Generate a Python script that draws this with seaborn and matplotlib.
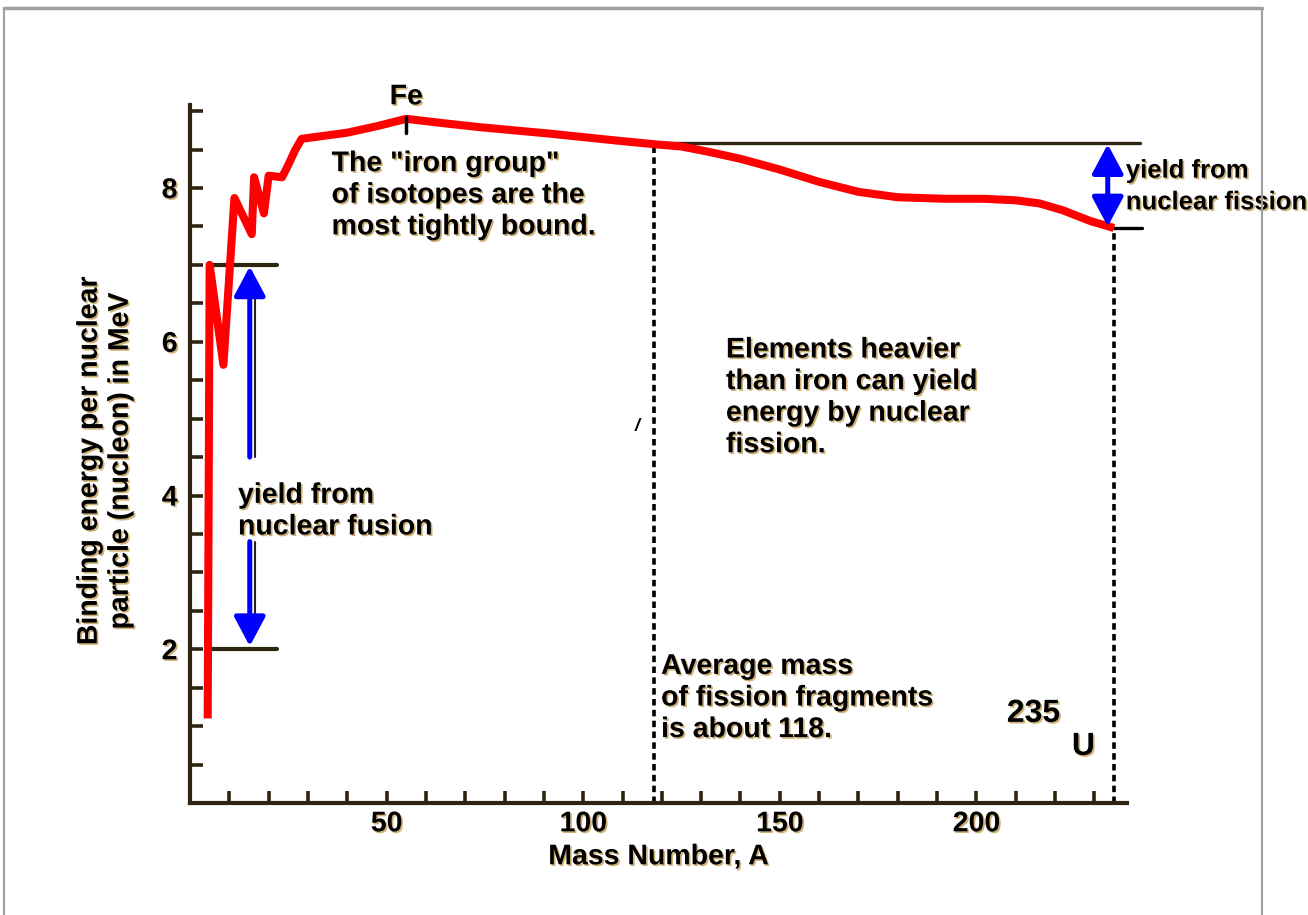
import matplotlib
matplotlib.use("Agg")
import matplotlib.pyplot as plt
import matplotlib.patheffects as pe
from matplotlib.lines import Line2D
import seaborn as sns
import pandas as pd

# DADOS
mass_number = [4.5, 5.0, 8.5, 11.3, 15.7, 16.3, 18.8, 20.0, 23.4, 25.0, 26.7, 28.4,
               40, 48, 55, 65, 74, 91, 108, 118, 125, 132, 140, 150, 160, 170, 180,
               192, 202, 210, 216, 222, 229, 235]
binding_energy = [1.1, 7.0, 5.7, 7.87, 7.4, 8.14, 7.67, 8.16, 8.14, 8.3, 8.49, 8.64,
                  8.72, 8.81, 8.9, 8.84, 8.79, 8.71, 8.62, 8.57, 8.54, 8.47, 8.38, 8.24, 8.08, 7.95, 7.88,
                  7.86, 7.86, 7.84, 7.8, 7.71, 7.57, 7.48]

fusion_levels = [7.0, 2.0]
fission_levels = [8.58, 7.48]
fission_fragment_mass = 118
uranium_mass = 235
iron_mass = 55

x_major = [50, 100, 150, 200]
y_major = [2, 4, 6, 8]

escuro = "#2e2410"
sombra = [pe.withSimplePatchShadow(offset=(1.2, -1.2), shadow_rgbFace="#c9a866", alpha=0.9)]

sns.set_theme(style="white")
plt.rcParams["font.family"] = ["Liberation Sans", "DejaVu Sans"]
plt.rcParams["font.weight"] = "bold"
plt.rcParams["axes.labelweight"] = "bold"

fig = plt.figure(figsize=(13.08, 9.15), dpi=100)
ax = fig.add_axes([190 / 1308, 1 - 803 / 915, (1127 - 190) / 1308, (803 - 105) / 915])

df = pd.DataFrame({"A": mass_number, "E": binding_energy})
sns.lineplot(data=df, x="A", y="E", color="#ff0000", linewidth=5.8, sort=False, ax=ax,
             solid_joinstyle="round", solid_capstyle="butt", zorder=3)

ax.set_xlim(0, 238.3)
ax.set_ylim(0, 9.08)

# linhas de fusao
for nivel in fusion_levels:
    ax.plot([5, 22], [nivel, nivel], color=escuro, lw=3, zorder=2)

# linhas de fissao
ax.plot([115, 241.5], [fission_levels[0]] * 2, color=escuro, lw=2.4, clip_on=False, zorder=2)
ax.plot([235, 242], [fission_levels[1]] * 2, color="black", lw=2.4, clip_on=False, zorder=2)

# linhas tracejadas verticais
ax.plot([fission_fragment_mass] * 2, [0, 8.55], color="black", lw=2.6, ls=(0, (1.8, 1.2)), zorder=2)
ax.plot([uranium_mass] * 2, [0, 7.45], color="black", lw=2.6, ls=(0, (1.8, 1.2)), zorder=2)

# setas azuis
seta = dict(arrowstyle="-|>,head_length=0.6,head_width=0.32", color="blue", lw=3.6,
            mutation_scale=30, shrinkA=0, shrinkB=0)
ax.plot([16.6, 16.6], [4.5, 6.8], color=escuro, lw=1.5, zorder=3)
ax.plot([16.6, 16.6], [2.2, 3.4], color=escuro, lw=1.5, zorder=3)
ax.annotate("", xy=(15.2, 6.98), xytext=(15.2, 4.5), arrowprops=seta, zorder=4)
ax.annotate("", xy=(15.2, 2.04), xytext=(15.2, 3.4), arrowprops=seta, zorder=4)
seta2 = dict(seta)
seta2["arrowstyle"] = "<|-|>,head_length=0.6,head_width=0.32"
ax.annotate("", xy=(233.4, 8.57), xytext=(233.4, 7.5), arrowprops=seta2, zorder=4)

# marca do Fe
ax.plot([iron_mass] * 2, [8.72, 8.93], color="black", lw=2.5, zorder=4)

tam = 20.5
kw = dict(fontsize=tam, color="black", path_effects=sombra, linespacing=1.28)
ax.text(iron_mass, 9.18, "Fe", ha="center", va="center", clip_on=False, **kw)
ax.text(36, 7.9, "The \"iron group\"\nof isotopes are the\nmost tightly bound.", ha="left", va="center", **kw)
ax.text(136.3, 5.27, "Elements heavier\nthan iron can yield\nenergy by nuclear\nfission.", ha="left", va="center", **kw)
ax.text(12.2, 3.79, "yield from\nnuclear fusion", ha="left", va="center", **kw)
ax.text(119.8, 1.36, "Average mass\nof fission fragments\nis about 118.", ha="left", va="center", **kw)
kw_fissao = dict(kw)
kw_fissao["fontsize"] = 18.5
kw_fissao["linespacing"] = 1.4
ax.text(238.0, 8.02, "yield from\nnuclear fission", ha="left", va="center", clip_on=False, **kw_fissao)
ax.text(214.5, 1.16, "235", ha="center", va="center", fontsize=23, color="black", path_effects=sombra)
ax.text(227.2, 0.73, "U", ha="center", va="center", fontsize=23, color="black", path_effects=sombra)
ax.text(113.7, 4.9, "/", ha="center", va="center", fontsize=13, color="black", style="italic")

# eixos
sns.despine(ax=ax)
for lado in ["left", "bottom"]:
    ax.spines[lado].set_color(escuro)
    ax.spines[lado].set_linewidth(3)
ax.set_xticks(range(10, 240, 10))
ax.set_xticklabels([str(v) if v in x_major else "" for v in range(10, 240, 10)])
y_ticks = [v / 2 for v in range(1, 19)]
ax.set_yticks(y_ticks)
ax.set_yticklabels([str(int(v)) if v in y_major else "" for v in y_ticks])
ax.tick_params(axis="both", direction="in", length=9, width=2.6, color=escuro,
               labelsize=tam, labelcolor="black", left=True, bottom=True)
ax.tick_params(axis="x", pad=6)
ax.tick_params(axis="y", pad=9)
for lbl in ax.get_xticklabels() + ax.get_yticklabels():
    lbl.set_path_effects(sombra)

ax.set_xlabel("Mass Number, A", fontsize=tam, fontweight="bold", color="black", labelpad=5,
              path_effects=sombra)
ax.set_ylabel("Binding energy per nuclear\nparticle (nucleon) in MeV", fontsize=tam,
              fontweight="bold", color="black", linespacing=1.25, path_effects=sombra)
ax.yaxis.set_label_coords(-0.06, 0.49)
ax.grid(False)

# moldura cinza
fig.add_artist(Line2D([4 / 1308, 1262 / 1308], [1 - 8 / 915] * 2, color="#a0a0a0", lw=2.5))
fig.add_artist(Line2D([4 / 1308] * 2, [0, 1 - 8 / 915], color="#a0a0a0", lw=1.5))
fig.add_artist(Line2D([1262 / 1308] * 2, [0, 1 - 8 / 915], color="#a0a0a0", lw=1.5))

fig.savefig("out.png", dpi=100)
